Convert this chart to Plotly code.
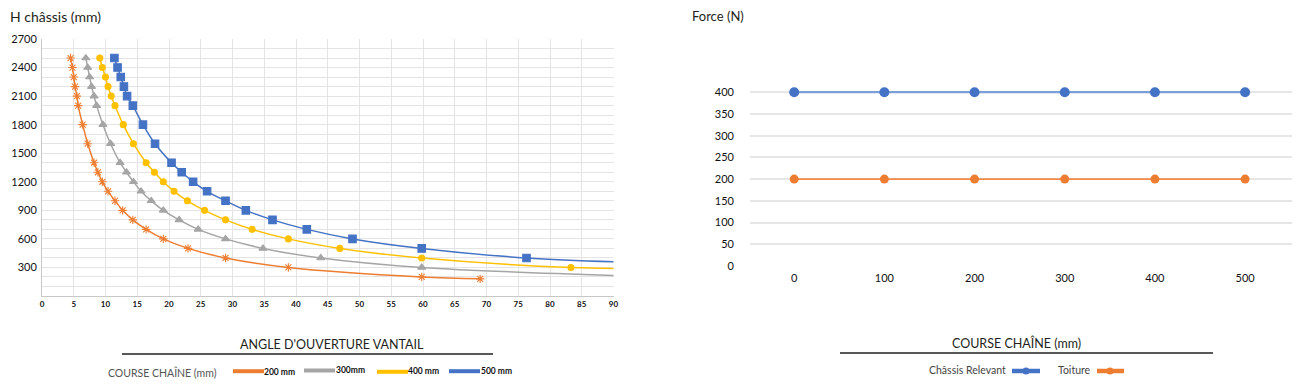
import plotly.graph_objects as go

# page body has an 8px margin: the figure is drawn 8px in from the top-left corner
OFF = 8
W, H = 1303 - 2 * OFF, 392 - 2 * OFF

# ---------------- Data: left chart (angle vs frame height) ----------------
h_200 = [2500, 2400, 2300, 2200, 2100, 2000, 1800, 1600, 1400, 1300, 1200, 1100, 1000, 900, 800, 700, 600, 500, 400, 300, 200, 180]
a_200 = [4.5, 4.8, 5.0, 5.2, 5.5, 5.7, 6.4, 7.2, 8.2, 8.8, 9.5, 10.4, 11.5, 12.7, 14.3, 16.4, 19.1, 23.0, 28.9, 38.8, 59.8, 69.0]

h_300 = [2500, 2400, 2300, 2200, 2100, 2000, 1800, 1600, 1400, 1300, 1200, 1100, 1000, 900, 800, 700, 600, 500, 400, 300, 200]
a_300 = [6.9, 7.2, 7.5, 7.8, 8.2, 8.6, 9.6, 10.8, 12.3, 13.3, 14.4, 15.6, 17.2, 19.1, 21.6, 24.6, 28.9, 34.8, 43.9, 59.8, 97.0]

h_400 = [2500, 2400, 2300, 2200, 2100, 2000, 1800, 1600, 1400, 1300, 1200, 1100, 1000, 900, 800, 700, 600, 500, 400, 300, 280]
a_400 = [9.1, 9.5, 10.0, 10.4, 10.9, 11.5, 12.8, 14.4, 16.4, 17.7, 19.1, 20.8, 22.9, 25.6, 28.9, 33.1, 38.8, 46.9, 59.8, 83.3, 120.0]

h_500 = [2500, 2400, 2300, 2200, 2100, 2000, 1800, 1600, 1400, 1300, 1200, 1100, 1000, 900, 800, 700, 600, 500, 400, 340]
a_500 = [11.4, 11.9, 12.4, 12.9, 13.4, 14.3, 15.9, 17.8, 20.4, 22.0, 23.8, 26.0, 28.9, 32.1, 36.3, 41.7, 48.9, 59.8, 76.3, 100.0]

left_names = ["200 mm", "300mm", "400 mm", "500 mm"]
left_colors = ["#ED7D31", "#A5A5A5", "#FFC000", "#4472C4"]
left_symbols = ["asterisk-open", "triangle-up", "circle", "square"]
left_sizes = [7, 7, 6, 7.5]

x_ticks_left = list(range(0, 91, 5))
y_ticks_left = list(range(300, 2701, 300))

# ---------------- Data: right chart (force vs chain stroke) ----------------
course = [0, 100, 200, 300, 400, 500]
force_chassis = [400, 400, 400, 400, 400, 400]
force_toiture = [200, 200, 200, 200, 200, 200]
y_ticks_right = [0, 50, 100, 150, 200, 250, 300, 350, 400, 450]
y_ticktext_right = ["0", "50", "100", "150", "200", "250", "300", "350", "400", ""]


def px(x):
    return (x - OFF) / W


def py(y):
    return 1 - (y - OFF) / H


FONT = "Lato, 'Open Sans', sans-serif"
fig = go.Figure()

series = [(a_200, h_200), (a_300, h_300), (a_400, h_400), (a_500, h_500)]
for (ax, hv), name, col, sym, sz in zip(series, left_names, left_colors, left_symbols, left_sizes):
    fig.add_trace(go.Scatter(
        x=ax, y=hv, name=name, mode="lines+markers",
        line=dict(color=col, width=1.5, shape="spline", smoothing=1.0),
        marker=dict(symbol=sym, size=sz, color=col, line=dict(width=1.1, color=col)),
        xaxis="x", yaxis="y", showlegend=False, cliponaxis=True,
    ))

fig.add_trace(go.Scatter(
    x=course, y=force_chassis, name="Châssis Relevant", mode="lines+markers",
    line=dict(color="#7E9ED8", width=2.2),
    marker=dict(symbol="circle", size=10, color="#4472C4"),
    xaxis="x2", yaxis="y2", showlegend=False,
))
fig.add_trace(go.Scatter(
    x=course, y=force_toiture, name="Toiture", mode="lines+markers",
    line=dict(color="#F0894A", width=1.6),
    marker=dict(symbol="circle", size=9, color="#ED7D31"),
    xaxis="x2", yaxis="y2", showlegend=False,
))

grid = "#E4E4E4"
fig.update_layout(
    width=W, height=H,
    margin=dict(l=0, r=0, t=0, b=0, autoexpand=False),
    paper_bgcolor="white", plot_bgcolor="white",
    font=dict(family=FONT, color="#231F20"),
    xaxis=dict(
        domain=[px(42), px(613.5)], range=[0, 90], tickvals=x_ticks_left,
        showgrid=True, gridcolor=grid, gridwidth=1,
        showline=True, linecolor="#C8C8C8", linewidth=1, zeroline=False,
        ticks="", tickfont=dict(size=8, color="#111", family=FONT, weight="bold"),
        anchor="y", fixedrange=True, automargin=False,
    ),
    yaxis=dict(
        domain=[py(296), py(39)], range=[0, 2700], tickvals=y_ticks_left,
        showgrid=True, gridcolor=grid, gridwidth=1,
        minor=dict(dtick=100, tick0=0, showgrid=True, gridcolor=grid, gridwidth=1),
        showline=True, linecolor="#C8C8C8", linewidth=1, zeroline=False,
        ticks="", tickfont=dict(size=11, color="#111"), ticklabelstandoff=2,
        anchor="x", fixedrange=True, automargin=False,
    ),
    xaxis2=dict(
        domain=[px(750), px(1292)], range=[-49, 552], tickvals=course,
        showgrid=False, showline=False, zeroline=False,
        ticks="", tickfont=dict(size=11, color="#111"), ticklabelstandoff=4,
        anchor="y2", fixedrange=True, automargin=False,
    ),
    yaxis2=dict(
        domain=[py(266), py(70.5)], range=[0, 450],
        tickvals=y_ticks_right, ticktext=y_ticktext_right,
        showgrid=True, gridcolor="#E6E6E6", gridwidth=1.5,
        showline=False, zeroline=False,
        ticks="", tickfont=dict(size=11, color="#111"), ticklabelstandoff=15,
        anchor="x2", fixedrange=True, automargin=False,
    ),
)

annotations = [
    dict(text="H châssis (mm)", x=px(8), y=py(16), xanchor="left", yanchor="middle",
         font=dict(size=14, color="#231F20")),
    dict(text="Force (N)", x=px(690), y=py(16), xanchor="left", yanchor="middle",
         font=dict(size=13, color="#231F20")),
    dict(text="ANGLE D'OUVERTURE VANTAIL", x=px(332), y=py(344), xanchor="center", yanchor="middle",
         font=dict(size=12.5, color="#231F20")),
    dict(text="COURSE CHAÎNE (mm)", x=px(1016), y=py(343), xanchor="center", yanchor="middle",
         font=dict(size=12.5, color="#231F20")),
    dict(text="COURSE CHAÎNE (mm)", x=px(162), y=py(372), xanchor="center", yanchor="middle",
         font=dict(size=10.5, color="#555")),
    dict(text="Châssis Relevant", x=px(1008), y=py(370), xanchor="right", yanchor="middle",
         font=dict(size=10.5, color="#444")),
    dict(text="Toiture", x=px(1093), y=py(370), xanchor="right", yanchor="middle",
         font=dict(size=10.5, color="#444")),
]

shapes = [
    dict(type="line", xref="paper", yref="paper", x0=px(122), x1=px(493), y0=py(354), y1=py(354),
         line=dict(color="#231F20", width=1.3)),
    dict(type="line", xref="paper", yref="paper", x0=px(840), x1=px(1213), y0=py(353), y1=py(353),
         line=dict(color="#231F20", width=1.3)),
]

# left legend swatches (bar + label)
leg_items = [(233, 264, 371.2, 279.5, 372), (304, 335, 370.5, 350, 370.3),
             (377, 408, 371.8, 423.5, 371.3), (449, 480, 371.2, 496, 371.3)]
for (x0, x1, yc, tx, ty), col, name in zip(leg_items, left_colors, left_names):
    shapes.append(dict(type="rect", xref="paper", yref="paper", x0=px(x0), x1=px(x1),
                       y0=py(yc + 2), y1=py(yc - 2), fillcolor=col, line=dict(width=0)))
    annotations.append(dict(text=name, x=px(tx), y=py(ty), xanchor="center", yanchor="middle",
                            font=dict(size=8.5, color="#111", weight="bold")))

# right legend swatches (line + dot)
for (x0, x1, xc), col in zip([(1012, 1040, 1026), (1097, 1124, 1110)], ["#4472C4", "#ED7D31"]):
    shapes.append(dict(type="line", xref="paper", yref="paper", x0=px(x0), x1=px(x1),
                       y0=py(371), y1=py(371), line=dict(color=col, width=4.5)))
    shapes.append(dict(type="circle", xref="paper", yref="paper", x0=px(xc - 3.5), x1=px(xc + 3.5),
                       y0=py(374.5), y1=py(367.5), fillcolor=col, line=dict(width=0)))

for a in annotations:
    a.update(xref="paper", yref="paper", showarrow=False)
fig.update_layout(annotations=annotations, shapes=shapes)

fig.write_html("out.html")
